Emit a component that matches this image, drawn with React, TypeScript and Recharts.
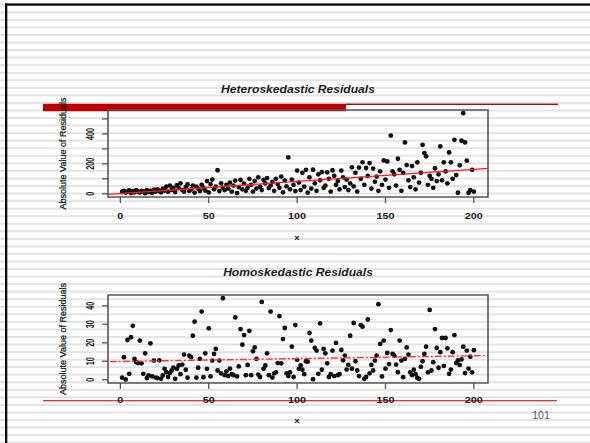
import React from 'react'
import { ScatterChart, Scatter, XAxis, YAxis, ReferenceArea } from 'recharts'

// |residual| for x = 1..200
const heteroResiduals = [
  12, 20, 8, 15, 22, 5, 18, 10, 25, 14,
  9, 20, 16, 4, 24, 12, 19, 7, 28, 15,
  30, 18, 10, 35, 22, 48, 14, 55, 26, 40,
  12, 58, 38, 70, 25, 15, 45, 62, 20, 30,
  55, 8, 48, 35, 18, 60, 40, 22, 85, 10,
  65, 95, 30, 48, 157, 18, 70, 40, 25, 60,
  35, 75, 15, 55, 88, 5, 45, 92, 30, 68,
  20, 40, 100, 60, 15, 85, 35, 110, 48, 25,
  92, 70, 105, 38, 55, 80, 20, 100, 65, 40,
  115, 10, 88, 50, 243, 30, 95, 60, 18, 155,
  75, 25, 140, 48, 160, 8, 110, 35, 161, 70,
  20, 130, 90, 145, 40, 55, 143, 100, 15, 157,
  120, 60, 85, 30, 155, 110, 45, 95, 25, 70,
  177, 50, 140, 15, 175, 100, 210, 60, 172, 120,
  205, 35, 168, 80, 115, 20, 150, 60, 223, 95,
  216, 40, 389, 150, 130, 55, 234, 160, 20, 140,
  343, 192, 90, 45, 185, 110, 30, 210, 75, 140,
  327, 272, 250, 60, 120, 100, 40, 170, 85, 130,
  316, 90, 210, 150, 70, 276, 210, 100, 360, 125,
  7, 190, 354, 538, 343, 221, 7, 24, 160, 15,
]

const homoResiduals = [
  1.1, 12.2, 0.2, 21.5, 3.2, 23, 29.2, 11.3, 9.5, 9,
  21.2, 8.9, 3.2, 14.3, 0.9, 2.3, 19.7, 1.8, 10.4, 1.2,
  0.9, 10.5, 0.5, 2.3, 5.9, 4.1, 1.5, 3.6, 5, 6.5,
  0.5, 5.9, 7.7, 3, 8.2, 13.6, 5.4, 1.1, 13, 12.2,
  23.8, 31.4, 1.1, 6.5, 11.3, 36.9, 1.4, 14.3, 5.9, 27.8,
  1.8, 10.4, 14, 16.7, 5, 10.4, 3.5, 44.1, 2.5, 4.5,
  2, 6, 3, 2.5, 33.7, 1.8, 7.2, 27.4, 19, 24.2,
  2.5, 8, 26.5, 2.5, 15.4, 17.5, 11.3, 2.8, 1.5, 42.1,
  5.9, 7.7, 14.3, 2.5, 36.9, 1.2, 3.5, 4, 9, 34.4,
  8.9, 22, 28, 3.5, 2, 4, 17.9, 1.5, 29.6, 10.8,
  5.9, 7.7, 5.4, 3, 10, 9.8, 25.3, 21.2, 0.3, 17.2,
  15.8, 3.2, 30.5, 5.4, 16.7, 14.3, 8.9, 1.5, 3, 15.8,
  2, 19.9, 2.5, 3, 16.1, 10.5, 13.1, 5.5, 8, 23.8,
  6, 30.7, 10, 5, 2, 29.6, 28.7, 0.5, 1.5, 32.6,
  3.5, 8, 5, 10.4, 13.1, 40.9, 19.4, 1.8, 21.2, 6,
  14.5, 8.5, 26.9, 14, 13.1, 8.2, 4.1, 21.2, 10.4, 1.4,
  11.3, 17.5, 13.6, 4, 2.5, 5.4, 3, 1, 0.5, 7,
  10, 14, 17.9, 4, 37.8, 5, 9.5, 27.4, 17.2, 6.5,
  14.9, 22.6, 7.5, 22.6, 17, 3.2, 5.5, 14.9, 24.2, 9,
  10.5, 8, 11, 17.9, 3.6, 15.8, 6, 12.5, 4, 16,
]

const xTicks = [0, 50, 100, 150, 200]
const heteroYTicks = [0, 100, 200, 300, 400, 500]
const heteroYLabels = [0, 200, 400]
const homoYTicks = [0, 10, 20, 30, 40]
const homoYLabels = [0, 10, 20, 30, 40]

// fitted lines (end points)
const heteroFit = [{ x: -7, y: -4 }, { x: 208, y: 170 }]
const homoFit = [{ x: -6, y: 9.8 }, { x: 208, y: 13.1 }]

const xDomain: [number, number] = [-7, 208]
const heteroYDomain: [number, number] = [-21.5, 559.5]
const homoYDomain: [number, number] = [-1.76, 45.86]

const heteroPoints = heteroResiduals.map((y, i) => ({ x: i + 1, y }))
const homoPoints = homoResiduals.map((y, i) => ({ x: i + 1, y }))

const FONT = "'Liberation Sans', Arial, Helvetica, sans-serif"
const INK = '#1a1a1a'
const FRAME = '#555'
const AXIS_W = 30
const AXIS_H = 30

const Dot = (p: any) => <circle cx={p.cx} cy={p.cy} r={2.4} fill="#111" />
const NoDot = () => <g />

const makeXTick = (dy: number) => (p: any) => (
  <text
    transform={`translate(${p.x} ${p.y + dy}) scale(1.2 1)`}
    textAnchor="middle"
    fontSize={9}
    fontWeight="bold"
    fontFamily={FONT}
    fill={INK}
  >
    {p.payload.value}
  </text>
)

const makeYTick = (labels: number[]) => (p: any) => {
  if (!labels.includes(p.payload.value)) return <g />
  return (
    <text
      transform={`translate(${p.x - 6.5} ${p.y}) rotate(-90) scale(0.9 1.3)`}
      textAnchor="middle"
      fontSize={8}
      fontWeight="bold"
      fontFamily={FONT}
      fill={INK}
    >
      {p.payload.value}
    </text>
  )
}

interface PlotProps {
  top: number
  height: number
  boxTop: number
  boxBottom: number
  points: { x: number; y: number }[]
  fit: { x: number; y: number }[]
  yDomain: [number, number]
  yTicks: number[]
  yLabels: number[]
  labelDy: number
  dashed?: boolean
}

function ResidualPlot({ top, height, boxTop, boxBottom, points, fit, yDomain, yTicks, yLabels, labelDy, dashed }: PlotProps) {
  return (
    <div style={{ position: 'absolute', left: 0, top, width: 590, height }}>
      <ScatterChart
        width={590}
        height={height}
        margin={{ top: boxTop - top, right: 102, bottom: top + height - boxBottom - AXIS_H, left: 108 - AXIS_W }}
      >
        <XAxis
          type="number"
          dataKey="x"
          domain={xDomain}
          ticks={xTicks}
          interval={0}
          allowDataOverflow
          height={AXIS_H}
          axisLine={false}
          tickSize={6}
          tickMargin={2}
          tickLine={{ stroke: FRAME, strokeWidth: 1.3 }}
          tick={makeXTick(labelDy)}
        />
        <YAxis
          type="number"
          dataKey="y"
          domain={yDomain}
          ticks={yTicks}
          interval={0}
          allowDataOverflow
          width={AXIS_W}
          axisLine={false}
          tickSize={6}
          tickMargin={2}
          tickLine={{ stroke: FRAME, strokeWidth: 1.3 }}
          tick={makeYTick(yLabels)}
        />
        <ReferenceArea
          x1={xDomain[0]}
          x2={xDomain[1]}
          y1={yDomain[0]}
          y2={yDomain[1]}
          fill="none"
          stroke={FRAME}
          strokeWidth={1.6}
        />
        <Scatter data={points} shape={Dot} isAnimationActive={false} />
        <Scatter
          data={fit}
          shape={NoDot}
          line={{ stroke: dashed ? '#ff3030' : '#ff1a1a', strokeWidth: 1.4, strokeDasharray: dashed ? '7 2 2 2' : undefined }}
          isAnimationActive={false}
        />
      </ScatterChart>
    </div>
  )
}

export default function App() {
  return (
    <div
      style={{
        position: 'absolute',
        left: 0,
        top: 0,
        width: 590,
        height: 443,
        overflow: 'hidden',
        background: '#fff',
        fontFamily: FONT,
      }}
    >
      <svg width={590} height={443} style={{ position: 'absolute', left: 0, top: 0 }}>
        <defs>
          <pattern id="stripes" x={0} y={5.75} width={590} height={7.55} patternUnits="userSpaceOnUse">
            <rect x={0} y={5.55} width={590} height={2} fill="#e3e3e3" />
          </pattern>
        </defs>
        <rect x={0} y={0} width={590} height={443} fill="url(#stripes)" />
        <rect x={5} y={3.4} width={585} height={2.3} fill="#0a0a0a" />
        <rect x={5} y={3.4} width={2.3} height={440} fill="#0a0a0a" />
        <rect x={43} y={103.8} width={303} height={7.4} fill="#c00000" />
        <rect x={346} y={103.6} width={212} height={1.4} fill="#c00000" />
        <rect x={43} y={400} width={514} height={1.4} fill="#e23a3a" />
      </svg>

      <ResidualPlot
        top={60}
        height={200}
        boxTop={110}
        boxBottom={197}
        points={heteroPoints}
        fit={heteroFit}
        yDomain={heteroYDomain}
        yTicks={heteroYTicks}
        yLabels={heteroYLabels}
        labelDy={14}
      />
      <ResidualPlot
        top={245}
        height={195}
        boxTop={295}
        boxBottom={383}
        points={homoPoints}
        fit={homoFit}
        yDomain={homoYDomain}
        yTicks={homoYTicks}
        yLabels={homoYLabels}
        labelDy={12}
        dashed
      />

      <svg width={590} height={443} style={{ position: 'absolute', left: 0, top: 0, pointerEvents: 'none' }}>
        <g fontFamily={FONT} fill={INK}>
          <text transform="translate(298 93) scale(1.1 1)" textAnchor="middle" fontSize={11} fontWeight="bold" fontStyle="italic">
            Heteroskedastic Residuals
          </text>
          <text transform="translate(298 276) scale(1.1 1)" textAnchor="middle" fontSize={11} fontWeight="bold" fontStyle="italic">
            Homoskedastic Residuals
          </text>
          <text transform="translate(65.5 153.5) rotate(-90)" textAnchor="middle" fontSize={9} stroke={INK} strokeWidth={0.25}>
            Absolute Value of Residuals
          </text>
          <text transform="translate(65.5 339) rotate(-90)" textAnchor="middle" fontSize={9} stroke={INK} strokeWidth={0.25}>
            Absolute Value of Residuals
          </text>
          <text transform="translate(297 240) scale(1.2 1)" textAnchor="middle" fontSize={8} fontWeight="bold">
            x
          </text>
          <text transform="translate(297 423) scale(1.2 1)" textAnchor="middle" fontSize={8} fontWeight="bold">
            x
          </text>
        </g>
        <text x={541} y={419.3} textAnchor="middle" fontSize={10.5} fontFamily={FONT} fill="#555">
          101
        </text>
      </svg>
    </div>
  )
}
